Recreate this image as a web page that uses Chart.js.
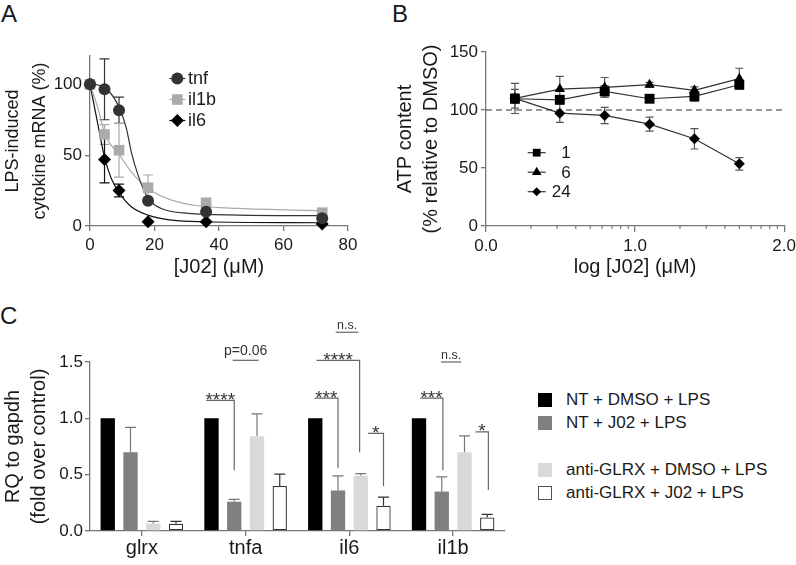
<!DOCTYPE html>
<html><head><meta charset="utf-8">
<script src="https://cdn.jsdelivr.net/npm/chart.js@4.4.1/dist/chart.umd.min.js"></script>
<style>
html,body{margin:0;padding:0;background:#fff;overflow:hidden;width:796px;height:565px;}
body{position:relative;font-family:"Liberation Sans",Arial,sans-serif;color:#1a1a1a;}
canvas{position:absolute;}
.plabel{position:absolute;font-size:24px;line-height:24px;}
.row{position:absolute;left:538px;height:20px;white-space:nowrap;font-size:17px;}
.sw{position:absolute;left:0;top:3px;width:14px;height:14px;box-sizing:border-box;}
.tx{position:absolute;left:28px;top:0;line-height:20px;}
</style></head><body>
<div class="plabel" style="left:1px;top:2px">A</div>
<div class="plabel" style="left:392px;top:2px">B</div>
<div class="plabel" style="left:0px;top:304px">C</div>
<canvas id="cA" width="390" height="283" style="left:0;top:0"></canvas>
<canvas id="cB" width="408" height="283" style="left:392px;top:0"></canvas>
<canvas id="cC" width="520" height="265" style="left:0;top:300px"></canvas>
<div class="row" style="top:390px"><div class="sw" style="background:#000"></div><div class="tx">NT + DMSO + LPS</div></div>
<div class="row" style="top:413px"><div class="sw" style="background:#808080"></div><div class="tx">NT + J02 + LPS</div></div>
<div class="row" style="top:460px"><div class="sw" style="background:#d9d9d9"></div><div class="tx">anti-GLRX + DMSO + LPS</div></div>
<div class="row" style="top:483px"><div class="sw" style="background:#fff;border:1.3px solid #555"></div><div class="tx">anti-GLRX + J02 + LPS</div></div>
<script>
// ---------- Panel A data ----------
const aDose = [0, 4.5, 9, 18, 36, 72];
const aTnf = [100, 96.5, 81.7, 17.8, 10, 5.4];
const aTnfErr = [0, 21.5, 9.3, 0, 0, 0];
const aIl1b = [100, 64.6, 53.5, 27, 16.4, 9.4];
const aIl1bErr = [0, 7, 19, 9, 2, 2];
const aIl6 = [100, 47, 25, 3, 3, 1.5];
const aIl6Err = [0, 16.5, 4.5, 0, 0, 0];
// fitted curves
const tnfFitX = [0, 2.5, 5.6, 9.2, 11.3, 12.8, 14.9, 18, 22.1, 30.4, 46, 72];
const tnfFitY = [100, 99.5, 95.8, 82.9, 68.8, 52.3, 35.9, 19.5, 12.4, 8.9, 7.7, 7.3];
const il1bFitX = [0, 2.5, 4.6, 9.2, 12.8, 18, 25.3, 33.5, 46, 72];
const il1bFitY = [100, 82.9, 65, 50, 38.2, 26.5, 18.3, 14.3, 12.4, 10.8];
const il6FitX = [0, 2.5, 4.6, 6.6, 9.2, 12.8, 18, 25.3, 35.7, 72];
const il6FitY = [100, 71, 47.7, 33.6, 23, 13.6, 7.7, 4.2, 3, 2.3];
const aXTicks = [0, 20, 40, 60, 80];
const aYTicks = [0, 50, 100];

// ---------- Panel B data ----------
const bLogDose = [0.194, 0.495, 0.796, 1.097, 1.398, 1.699];
const b1h = [109.7, 108.8, 116, 109.7, 111.7, 121.8];
const b1hErr = [8, 3, 5, 2, 4, 3];
const b6h = [110, 118, 119.5, 121.8, 117, 127];
const b6hErr = [4, 11, 8.5, 2, 3, 9];
const b24h = [110, 97.3, 95.3, 87.8, 75.2, 53.6];
const b24hErr = [13, 8, 7, 6, 8.8, 5.4];
const bXTicks = [0, 1, 2];
const bYTicks = [0, 50, 100, 150];
const bReference = 100;

// ---------- Panel C data ----------
const cGenes = ['glrx', 'tnfa', 'il6', 'il1b'];
const cSeries = ['NT + DMSO + LPS', 'NT + J02 + LPS', 'anti-GLRX + DMSO + LPS', 'anti-GLRX + J02 + LPS'];
const cNtDmso = [1, 1, 1, 1];
const cNtJ02 = [0.70, 0.26, 0.36, 0.35];
const cNtJ02Err = [0.22, 0.02, 0.13, 0.13];
const cAgDmso = [0.065, 0.84, 0.49, 0.70];
const cAgDmsoErr = [0.02, 0.20, 0.02, 0.145];
const cAgJ02 = [0.065, 0.40, 0.225, 0.12];
const cAgJ02Err = [0.02, 0.105, 0.075, 0.027];
const cYTicks = [0, 0.5, 1.0, 1.5];

const FONT = '"Liberation Sans", Arial, sans-serif';
Chart.defaults.font.family = FONT;
Chart.defaults.color = '#1a1a1a';
const AX = '#777';

const errorBars = {
  id: 'errorBars',
  beforeDatasetsDraw(chart) {
    const ctx = chart.ctx, ys = chart.scales.y;
    chart.data.datasets.forEach((ds, di) => {
      if (!ds.errors) return;
      const meta = chart.getDatasetMeta(di);
      ctx.save();
      ctx.strokeStyle = ds.errColor; ctx.lineWidth = ds.errWidth || 1.2;
      meta.data.forEach((el, i) => {
        const e = ds.errors[i]; if (!e) return;
        const d = ds.data[i]; const v = typeof d === 'object' ? d.y : d;
        const x = el.x;
        const yT = ys.getPixelForValue(v + e);
        const yB = ds.errUpOnly ? ys.getPixelForValue(v) : ys.getPixelForValue(v - e);
        const cw = ds.capHalf || 4;
        ctx.beginPath();
        ctx.moveTo(x, yT); ctx.lineTo(x, yB);
        ctx.moveTo(x - cw, yT); ctx.lineTo(x + cw, yT);
        if (!ds.errUpOnly) { ctx.moveTo(x - cw, yB); ctx.lineTo(x + cw, yB); }
        ctx.stroke();
      });
      ctx.restore();
    });
  }
};

const lineLegend = {
  id: 'lineLegend',
  afterDraw(chart, args, o) {
    if (!o || !o.items) return;
    const ctx = chart.ctx;
    o.items.forEach((di, i) => {
      const ds = chart.data.datasets[di];
      const y = o.y + i * o.dy;
      ctx.save();
      ctx.strokeStyle = ds.borderColor; ctx.lineWidth = 1.2;
      ctx.beginPath(); ctx.moveTo(o.x - o.half, y); ctx.lineTo(o.x + o.half, y); ctx.stroke();
      ctx.fillStyle = ds.backgroundColor; ctx.strokeStyle = ds.backgroundColor;
      Chart.helpers.drawPoint(ctx, {pointStyle: ds.pointStyle, radius: o.radius[i], borderWidth: 0, rotation: 0}, o.x, y);
      ctx.fillStyle = '#1a1a1a'; ctx.font = o.font; ctx.textAlign = o.align; ctx.textBaseline = 'middle';
      ctx.fillText(ds.label, o.textX, y + 1);
      ctx.restore();
    });
  }
};

function pts(xs, ys) { return xs.map((x, i) => ({x: x, y: ys[i]})); }
function gridOpts(len) { return {display: true, drawOnChartArea: false, drawTicks: true, tickLength: len, color: AX, lineWidth: 1.3}; }
const border = {display: true, color: AX, width: 1.3};

// ---------- Chart A ----------
new Chart(document.getElementById('cA'), {
  type: 'scatter',
  data: {datasets: [
    {label: 'tnf', data: pts(aDose, aTnf), errors: aTnfErr, errColor: '#333', capHalf: 5, pointStyle: 'circle', pointRadius: 6, backgroundColor: '#333', borderColor: '#333', borderWidth: 0, clip: false},
    {label: 'il1b', data: pts(aDose, aIl1b), errors: aIl1bErr, errColor: '#aaa', capHalf: 5, pointStyle: 'rect', pointRadius: 7.5, backgroundColor: '#aaa', borderColor: '#aaa', borderWidth: 0, clip: false},
    {label: 'il6', data: pts(aDose, aIl6), errors: aIl6Err, errColor: '#111', capHalf: 5, pointStyle: 'rectRot', pointRadius: 6.5, backgroundColor: '#000', borderColor: '#000', borderWidth: 0, clip: false},
    {label: 'tnf fit', data: pts(tnfFitX, tnfFitY), showLine: true, pointRadius: 0, borderColor: '#333', borderWidth: 1.2, cubicInterpolationMode: 'monotone', clip: false},
    {label: 'il1b fit', data: pts(il1bFitX, il1bFitY), showLine: true, pointRadius: 0, borderColor: '#aaa', borderWidth: 1.2, cubicInterpolationMode: 'monotone', clip: false},
    {label: 'il6 fit', data: pts(il6FitX, il6FitY), showLine: true, pointRadius: 0, borderColor: '#111', borderWidth: 1.2, cubicInterpolationMode: 'monotone', clip: false}
  ]},
  options: {
    responsive: false, animation: false, devicePixelRatio: 1, events: [],
    layout: {padding: {left: 0, top: 56, right: 42, bottom: 0}},
    plugins: {legend: {display: false}, tooltip: {enabled: false},
      lineLegend: {items: [0, 1, 2], radius: [6, 7.5, 6.5], x: 177.3, half: 8, y: 78.5, dy: 21, textX: 188, align: 'left', font: '18px ' + FONT}},
    scales: {
      x: {type: 'linear', min: 0, max: 80,
        afterBuildTicks: s => { s.ticks = aXTicks.map(v => ({value: v})); },
        ticks: {font: {size: 17}, padding: 4, maxRotation: 0},
        grid: gridOpts(5), border: border,
        title: {display: true, text: '[J02] (μM)', font: {size: 20}, padding: {top: 0, bottom: 4}},
        afterFit: s => { s.height = 57; }},
      y: {type: 'linear', min: 0, max: 120,
        afterBuildTicks: s => { s.ticks = aYTicks.map(v => ({value: v})); },
        ticks: {font: {size: 17}, padding: 3},
        grid: gridOpts(5), border: border,
        title: {display: true, text: ['LPS-induced', 'cytokine mRNA (%)'], font: {size: 18, lineHeight: 1.5}, padding: {top: 0, bottom: 0}},
        afterFit: s => { s.width = 90; }}
    }
  },
  plugins: [errorBars, lineLegend]
});

// ---------- Chart B ----------
const minorB = [];
[0, 1].forEach(d => { for (let k = 2; k <= 9; k++) minorB.push(d + Math.log10(k)); });
const bExtras = {
  id: 'bExtras',
  beforeDatasetsDraw(chart) {
    const ctx = chart.ctx, xs = chart.scales.x, ys = chart.scales.y;
    ctx.save();
    ctx.strokeStyle = '#333'; ctx.lineWidth = 1.1; ctx.setLineDash([6, 4]);
    const y = ys.getPixelForValue(bReference);
    ctx.beginPath(); ctx.moveTo(xs.getPixelForValue(0), y); ctx.lineTo(xs.getPixelForValue(2), y); ctx.stroke();
    ctx.setLineDash([]);
    ctx.strokeStyle = AX; ctx.lineWidth = 1.2;
    const yb = ys.bottom;
    minorB.forEach(v => { const x = xs.getPixelForValue(v); ctx.beginPath(); ctx.moveTo(x, yb); ctx.lineTo(x, yb + 3); ctx.stroke(); });
    ctx.restore();
  }
};
new Chart(document.getElementById('cB'), {
  type: 'scatter',
  data: {datasets: [
    {label: '1', data: pts(bLogDose, b1h), errors: b1hErr, errColor: '#555', capHalf: 4, showLine: true, pointStyle: 'rect', pointRadius: 7, backgroundColor: '#000', borderColor: '#333', borderWidth: 1.2, pointBorderWidth: 0, clip: false},
    {label: '6', data: pts(bLogDose, b6h), errors: b6hErr, errColor: '#555', capHalf: 4, showLine: true, pointStyle: 'triangle', pointRadius: 6, backgroundColor: '#000', borderColor: '#333', borderWidth: 1.2, pointBorderWidth: 0, clip: false},
    {label: '24', data: pts(bLogDose, b24h), errors: b24hErr, errColor: '#555', capHalf: 4, showLine: true, pointStyle: 'rectRot', pointRadius: 5.5, backgroundColor: '#000', borderColor: '#333', borderWidth: 1.2, pointBorderWidth: 0, clip: false}
  ]},
  options: {
    responsive: false, animation: false, devicePixelRatio: 1, events: [],
    layout: {padding: {left: 0, top: 52, right: 14, bottom: 0}},
    plugins: {legend: {display: false}, tooltip: {enabled: false},
      lineLegend: {items: [0, 1, 2], radius: [5.5, 5.5, 4.5], x: 144.7, half: 9, y: 152.7, dy: 19.5, textX: 178.7, align: 'right', font: '17px ' + FONT}},
    scales: {
      x: {type: 'linear', min: 0, max: 2,
        afterBuildTicks: s => { s.ticks = bXTicks.map(v => ({value: v})); },
        ticks: {font: {size: 17}, padding: 4, maxRotation: 0, callback: v => Number(v).toFixed(1)},
        grid: gridOpts(6), border: border,
        title: {display: true, text: 'log [J02] (μM)', font: {size: 20}, padding: {top: 0, bottom: 4}},
        afterFit: s => { s.height = 57; }},
      y: {type: 'linear', min: 0, max: 150,
        afterBuildTicks: s => { s.ticks = bYTicks.map(v => ({value: v})); },
        ticks: {font: {size: 17}, padding: 3},
        grid: gridOpts(5), border: border,
        title: {display: true, text: ['ATP content', '(% relative to DMSO)'], font: {size: 20, lineHeight: 1.3}, padding: {top: 0, bottom: 0}},
        afterFit: s => { s.width = 94; }}
    }
  },
  plugins: [errorBars, lineLegend, bExtras]
});

// ---------- Chart C ----------
const cBrackets = [
  {cat: 1, x1: -1.73, x2: -0.5, y: 1.16, down: 0.54, text: '****'},
  {cat: 1, x1: -0.57, x2: 0.57, y: 1.515, down: null, text: 'p=0.06'},
  {cat: 2, x1: -1.53, x2: -0.5, y: 1.18, down: 0.556, text: '***'},
  {cat: 2, x1: -1.44, x2: 0.45, y: 1.515, down: 0.70, text: '****'},
  {cat: 2, x1: -0.6, x2: 0.4, y: 1.764, down: null, text: 'n.s.'},
  {cat: 2, x1: 0.82, x2: 1.5, y: 0.866, down: 0.40, text: '*'},
  {cat: 3, x1: -1.45, x2: -0.45, y: 1.18, down: 0.54, text: '***'},
  {cat: 3, x1: -0.53, x2: 0.35, y: 1.50, down: null, text: 'n.s.'},
  {cat: 3, x1: 0.98, x2: 1.55, y: 0.88, down: 0.363, text: '*'}
];
const sigMarks = {
  id: 'sigMarks',
  afterDatasetsDraw(chart) {
    const ctx = chart.ctx, ys = chart.scales.y;
    const m0 = chart.getDatasetMeta(0), m1 = chart.getDatasetMeta(1), m3 = chart.getDatasetMeta(3);
    cBrackets.forEach(b => {
      const pitch = m1.data[b.cat].x - m0.data[b.cat].x;
      const c = (m0.data[b.cat].x + m3.data[b.cat].x) / 2;
      const x1 = c + b.x1 * pitch, x2 = c + b.x2 * pitch, y = ys.getPixelForValue(b.y);
      ctx.save();
      ctx.strokeStyle = '#666'; ctx.lineWidth = 1.2;
      ctx.beginPath(); ctx.moveTo(x1, y); ctx.lineTo(x2, y);
      if (b.down != null) ctx.lineTo(x2, ys.getPixelForValue(b.down));
      ctx.stroke();
      ctx.fillStyle = '#333'; ctx.textAlign = 'center'; ctx.textBaseline = 'alphabetic';
      const star = /^\*+$/.test(b.text);
      let dy;
      if (star) { ctx.font = '19px ' + FONT; dy = 5.5; }
      else if (b.text === 'n.s.') { ctx.font = '12.5px ' + FONT; dy = -3.5; }
      else { ctx.font = '14px ' + FONT; dy = -5.5; }
      ctx.fillText(b.text, (x1 + x2) / 2, y + dy);
      ctx.restore();
    });
  }
};
new Chart(document.getElementById('cC'), {
  type: 'bar',
  data: {labels: cGenes, datasets: [
    {label: cSeries[0], data: cNtDmso, backgroundColor: '#000', borderWidth: 0},
    {label: cSeries[1], data: cNtJ02, errors: cNtJ02Err, errColor: '#777', errUpOnly: true, capHalf: 5.5, backgroundColor: '#808080', borderWidth: 0},
    {label: cSeries[2], data: cAgDmso, errors: cAgDmsoErr, errColor: '#777', errUpOnly: true, capHalf: 5.5, backgroundColor: '#d9d9d9', borderWidth: 0},
    {label: cSeries[3], data: cAgJ02, errors: cAgJ02Err, errColor: '#333', errUpOnly: true, capHalf: 5.5, backgroundColor: '#fff', borderColor: '#333', borderWidth: 1.3, borderSkipped: false}
  ]},
  options: {
    responsive: false, animation: false, devicePixelRatio: 1, events: [],
    layout: {padding: {left: 0, top: 62, right: 15, bottom: 0}},
    datasets: {bar: {categoryPercentage: 0.877, barPercentage: 0.63}},
    plugins: {legend: {display: false}, tooltip: {enabled: false}},
    scales: {
      x: {offset: true,
        ticks: {font: {size: 20}, padding: 0},
        grid: Object.assign(gridOpts(5), {offset: false}), border: border,
        afterFit: s => { s.height = 34; }},
      y: {type: 'linear', min: 0, max: 1.5,
        afterBuildTicks: s => { s.ticks = cYTicks.map(v => ({value: v})); },
        ticks: {font: {size: 17}, padding: 2, callback: v => Number(v).toFixed(1)},
        grid: gridOpts(5), border: border,
        title: {display: true, text: ['RQ to gapdh', '(fold over control)'], font: {size: 20, lineHeight: 1.3}, padding: {top: 0, bottom: 0}},
        afterFit: s => { s.width = 90; }}
    }
  },
  plugins: [errorBars, sigMarks]
});
</script>
</body></html>
